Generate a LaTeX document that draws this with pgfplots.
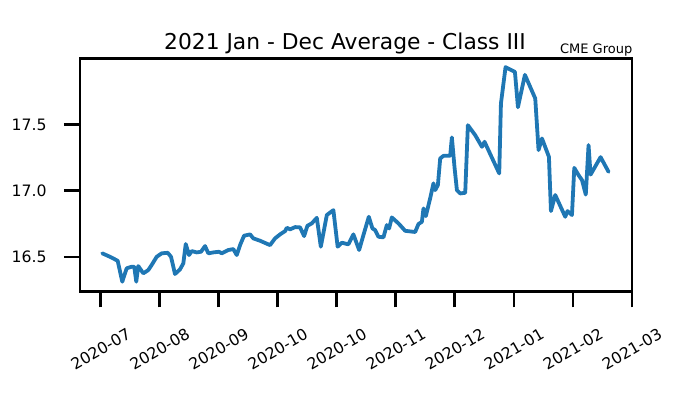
\documentclass[border=0pt]{standalone}
\usepackage{fontspec}
\setmainfont{DejaVu Sans}
\usepackage{pgfplots}
\pgfplotsset{compat=1.18}
\definecolor{mplblue}{RGB}{31,119,180}
\begin{document}
\begin{tikzpicture}
\path[use as bounding box] (0,0) rectangle (675pt,409pt);
\begin{axis}[
  at={(80pt,117.5pt)}, anchor=south west,
  width=552pt, height=233.2pt, scale only axis,
  xmin=-0.35, xmax=9.0, ymin=16.24, ymax=18.0,
  axis line style={line width=2.8pt, black},
  tick align=outside,
  xtick pos=bottom, ytick pos=left,
  major tick length=16pt,
  tick style={line width=2.8pt, black},
  xtick={0,1,2,3,4,5,6,7,8,9},
  xticklabels={\rotatebox{30}{2020-07},\rotatebox{30}{2020-08},\rotatebox{30}{2020-09},\rotatebox{30}{2020-10},\rotatebox{30}{2020-10},\rotatebox{30}{2020-11},\rotatebox{30}{2020-12},\rotatebox{30}{2021-01},\rotatebox{30}{2021-02},\rotatebox{30}{2021-03}},
  ytick={16.5,17.0,17.5},
  yticklabels={16.5,17.0,17.5},
  yticklabel style={anchor=east, inner sep=0pt, xshift=-17.3pt, font=\fontsize{15.7}{16}\selectfont},
  xticklabel style={anchor=north, inner sep=0pt, yshift=-19.5pt, font=\fontsize{15.7}{16}\selectfont},
  clip=true,
]
\addplot[mplblue, line width=3.8pt, line join=round, line cap=round] coordinates {
(0.027,16.528) (0.158,16.502) (0.288,16.472) (0.366,16.314) (0.441,16.415)
(0.525,16.427) (0.569,16.427) (0.603,16.314) (0.637,16.432) (0.722,16.377)
(0.807,16.402) (0.864,16.440) (0.949,16.502) (1.034,16.528) (1.136,16.532)
(1.192,16.502) (1.259,16.372) (1.344,16.407) (1.400,16.452) (1.441,16.598)
(1.497,16.515) (1.542,16.545) (1.627,16.535) (1.700,16.540) (1.768,16.583)
(1.824,16.528) (1.908,16.535) (2.005,16.540) (2.051,16.528) (2.163,16.553)
(2.247,16.560) (2.305,16.515) (2.361,16.590) (2.429,16.661) (2.531,16.671)
(2.586,16.641) (2.700,16.623) (2.869,16.590) (2.954,16.641) (3.039,16.671)
(3.124,16.696) (3.153,16.721) (3.208,16.709) (3.293,16.726) (3.378,16.724)
(3.446,16.658) (3.502,16.736) (3.576,16.754) (3.661,16.796) (3.729,16.578)
(3.831,16.817) (3.942,16.854) (4.014,16.578) (4.085,16.608) (4.197,16.596)
(4.281,16.671) (4.378,16.553) (4.451,16.666) (4.542,16.804) (4.603,16.716)
(4.649,16.704) (4.705,16.653) (4.790,16.649) (4.847,16.741) (4.886,16.716)
(4.932,16.799) (5.044,16.754) (5.158,16.698) (5.327,16.689) (5.383,16.749)
(5.441,16.766) (5.468,16.867) (5.508,16.809) (5.581,16.943) (5.637,17.056)
(5.666,17.005) (5.712,17.043) (5.751,17.244) (5.807,17.264) (5.920,17.264)
(5.949,17.403) (5.993,17.181) (6.034,17.005) (6.090,16.980) (6.175,16.985)
(6.220,17.495) (6.344,17.420) (6.458,17.332) (6.502,17.370) (6.751,17.131)
(6.780,17.659) (6.858,17.933) (7.017,17.897) (7.068,17.631) (7.186,17.875)
(7.361,17.697) (7.417,17.307) (7.475,17.395) (7.593,17.256) (7.627,16.847)
(7.700,16.968) (7.869,16.804) (7.908,16.847) (7.983,16.817) (8.022,17.173)
(8.095,17.118) (8.153,17.081) (8.217,16.971) (8.264,17.345) (8.298,17.122)
(8.468,17.254) (8.603,17.143)
};
\end{axis}
\node[anchor=base, inner sep=0pt, font=\fontsize{21.8}{24}\selectfont] at (345pt,359pt) {2021 Jan - Dec Average - Class III};
\node[anchor=base east, inner sep=0pt, font=\fontsize{13}{14}\selectfont] at (632.5pt,355.7pt) {CME Group};
\end{tikzpicture}
\end{document}
